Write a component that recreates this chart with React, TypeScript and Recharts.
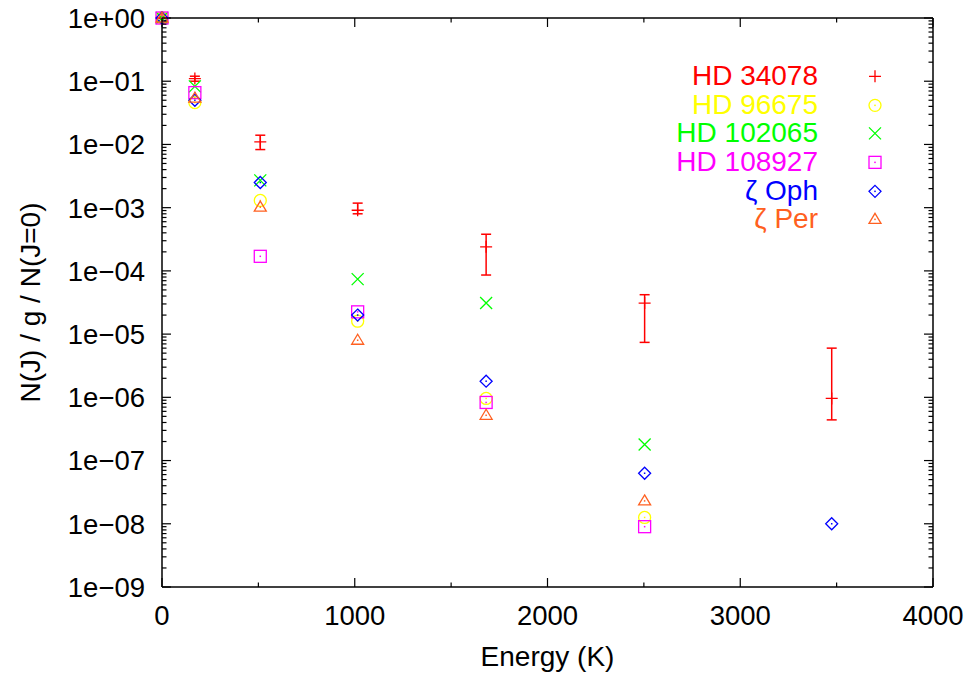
import React from "react";
import {
  ScatterChart,
  Scatter,
  XAxis,
  YAxis,
  ErrorBar,
  Legend,
  ReferenceLine,
  Label,
} from "recharts";

// Niveaux rotationnels de H2, J = 0..6 (énergie en K)
const energies = [0, 170.5, 509.9, 1015.1, 1681.6, 2503.9, 3474.5];

// N(J) / g / N(J=0) pour chaque ligne de visée
const hd34078 = [1, 0.11, 0.011, 9.1e-4, 2.4e-4, 3.1e-5, 9.6e-7];
const hd34078Low = [1, 0.1, 0.0083, 8.0e-4, 8.6e-5, 7.4e-6, 4.4e-7];
const hd34078High = [1, 0.12, 0.014, 1.18e-3, 3.8e-4, 4.2e-5, 6.0e-6];
const hd96675 = [1, 0.046, 0.0013, 1.6e-5, 9.6e-7, 1.26e-8, null];
const hd102065 = [1, 0.083, 0.0027, 7.4e-5, 3.1e-5, 1.8e-7, null];
const hd108927 = [1, 0.066, 1.7e-4, 2.25e-5, 8.3e-7, 9.0e-9, null];
const zetaOph = [1, 0.05, 0.0025, 2.0e-5, 1.8e-6, 6.3e-8, 1.0e-8];
const zetaPer = [1, 0.054, 0.00102, 8.0e-6, 5.2e-7, 2.3e-8, null];

const seriesNames = ["HD 34078", "HD 96675", "HD 102065", "HD 108927", "ζ Oph", "ζ Per"];
const seriesColors = ["#ff0000", "#ffff00", "#00ff00", "#ff00ff", "#0000ff", "#ff6020"];
const seriesMarkers = ["plus", "circle", "cross", "square", "diamond", "triangle"];

const xTicks = [0, 500, 1000, 1500, 2000, 2500, 3000, 3500, 4000];
const yMajor = [1, 1e-1, 1e-2, 1e-3, 1e-4, 1e-5, 1e-6, 1e-7, 1e-8, 1e-9];

const yMinor: number[] = [];
for (let e = -9; e < 0; e++) for (let k = 2; k <= 9; k++) yMinor.push(k * 10 ** e);
const majorSet = new Set(yMajor);

const FONT = "'Liberation Sans', Arial, sans-serif";
const PLOT_LEFT = 162;
const PLOT_RIGHT = 933;
const PLOT_TOP = 18;
const PLOT_BOTTOM = 587;

const fmtExp = (v: number) => {
  const e = Math.round(Math.log10(v));
  const a = Math.abs(e);
  return `1e${e >= 0 ? "+" : "−"}${a < 10 ? "0" + a : a}`;
};

function Marker({ kind, cx, cy, color }: { kind: string; cx: number; cy: number; color: string }) {
  const s = 6;
  const w = 1.3;
  const dot = <rect x={cx - 0.75} y={cy - 0.75} width={1.5} height={1.5} fill={color} />;
  switch (kind) {
    case "plus":
      return <path d={`M${cx - s},${cy}H${cx + s}M${cx},${cy - s}V${cy + s}`} stroke={color} strokeWidth={w} fill="none" />;
    case "cross":
      return <path d={`M${cx - s},${cy - s}L${cx + s},${cy + s}M${cx - s},${cy + s}L${cx + s},${cy - s}`} stroke={color} strokeWidth={w} fill="none" />;
    case "circle":
      return (
        <g>
          <circle cx={cx} cy={cy} r={s} stroke={color} strokeWidth={w} fill="none" />
          {dot}
        </g>
      );
    case "square":
      return (
        <g>
          <rect x={cx - s} y={cy - s} width={2 * s} height={2 * s} stroke={color} strokeWidth={w} fill="none" />
          {dot}
        </g>
      );
    case "diamond":
      return (
        <g>
          <path d={`M${cx},${cy - s}L${cx + s},${cy}L${cx},${cy + s}L${cx - s},${cy}Z`} stroke={color} strokeWidth={w} fill="none" />
          {dot}
        </g>
      );
    default:
      return (
        <g>
          <path d={`M${cx},${cy - 6}L${cx + 6},${cy + 4}L${cx - 6},${cy + 4}Z`} stroke={color} strokeWidth={w} fill="none" />
          {dot}
        </g>
      );
  }
}

const toPoints = (vals: (number | null)[]) =>
  energies
    .map((x, i) => ({ x, y: vals[i] }))
    .filter((p) => p.y != null);

const redPoints = energies.map((x, i) => ({
  x,
  y: hd34078[i],
  err: [hd34078[i] - hd34078Low[i], hd34078High[i] - hd34078[i]],
}));

const seriesData = [redPoints, toPoints(hd96675), toPoints(hd102065), toPoints(hd108927), toPoints(zetaOph), toPoints(zetaPer)];

function YTick(props: any) {
  const { y, payload } = props;
  const v = payload.value;
  const major = majorSet.has(v);
  const len = major ? 9 : 4.5;
  return (
    <g>
      <line x1={PLOT_LEFT} x2={PLOT_LEFT + len} y1={y} y2={y} stroke="#000" strokeWidth={1.2} />
      <line x1={PLOT_RIGHT} x2={PLOT_RIGHT - len} y1={y} y2={y} stroke="#000" strokeWidth={1.2} />
      {major && (
        <text x={PLOT_LEFT - 17} y={y} dy="0.36em" textAnchor="end" fontFamily={FONT} fontSize={27.5} fill="#000">
          {fmtExp(v)}
        </text>
      )}
    </g>
  );
}

function XTick(props: any) {
  const { x, payload } = props;
  const v = payload.value;
  const major = v % 1000 === 0;
  const len = major ? 9 : 4.5;
  return (
    <g>
      <line x1={x} x2={x} y1={PLOT_BOTTOM} y2={PLOT_BOTTOM - len} stroke="#000" strokeWidth={1.2} />
      <line x1={x} x2={x} y1={PLOT_TOP} y2={PLOT_TOP + len} stroke="#000" strokeWidth={1.2} />
      {major && (
        <text x={x} y={625} textAnchor="middle" fontFamily={FONT} fontSize={27.5} fill="#000">
          {v}
        </text>
      )}
    </g>
  );
}

const renderLegend = () => (
  <div style={{ fontFamily: FONT, fontSize: 28 }}>
    {seriesNames.map((n, i) => (
      <div key={n} style={{ display: "flex", alignItems: "center", height: 28.7 }}>
        <span style={{ width: 178, textAlign: "right", color: seriesColors[i], lineHeight: "28.7px", whiteSpace: "nowrap" }}>
          {n}
        </span>
        <svg width={80} height={28.7}>
          <Marker kind={seriesMarkers[i]} cx={57} cy={14.35} color={seriesColors[i]} />
        </svg>
      </div>
    ))}
  </div>
);

export default function App() {
  return (
    <div style={{ position: "absolute", left: 0, top: 0, width: 968, height: 675, background: "#fff" }}>
      <ScatterChart width={968} height={675} margin={{ top: 18, right: 35, bottom: 0, left: 0 }}>
        <XAxis
          type="number"
          dataKey="x"
          domain={[0, 4000]}
          ticks={xTicks}
          interval={0}
          height={88}
          tickLine={false}
          axisLine={{ stroke: "#000", strokeWidth: 1.5 }}
          tick={(p: any) => <XTick {...p} />}
        >
          <Label
            content={() => (
              <text x={(PLOT_LEFT + PLOT_RIGHT) / 2} y={666} textAnchor="middle" fontFamily={FONT} fontSize={28} fill="#000">
                Energy (K)
              </text>
            )}
          />
        </XAxis>
        <YAxis
          type="number"
          dataKey="y"
          scale="log"
          domain={[1e-9, 1]}
          ticks={[...yMajor, ...yMinor]}
          interval={0}
          width={162}
          tickLine={false}
          axisLine={{ stroke: "#000", strokeWidth: 1.5 }}
          tick={(p: any) => <YTick {...p} />}
        >
          <Label
            content={() => (
              <text
                x={30}
                y={(PLOT_TOP + PLOT_BOTTOM) / 2}
                dy="0.36em"
                transform={`rotate(-90 30 ${(PLOT_TOP + PLOT_BOTTOM) / 2})`}
                textAnchor="middle"
                fontFamily={FONT}
                fontSize={28}
                fill="#000"
              >
                N(J) / g / N(J=0)
              </text>
            )}
          />
        </YAxis>
        <ReferenceLine y={1} stroke="#000" strokeWidth={1.5} />
        <ReferenceLine x={4000} stroke="#000" strokeWidth={1.5} />
        <Legend
          layout="vertical"
          align="center"
          verticalAlign="middle"
          content={renderLegend}
          wrapperStyle={{ position: "absolute", left: 640, top: 62, width: 260, margin: 0 }}
        />
        {seriesData.map((data, i) => (
          <Scatter
            key={seriesNames[i]}
            name={seriesNames[i]}
            data={data}
            fill={seriesColors[i]}
            isAnimationActive={false}
            shape={(p: any) => <Marker kind={seriesMarkers[i]} cx={p.cx} cy={p.cy} color={seriesColors[i]} />}
          >
            {i === 0 && (
              <ErrorBar dataKey="err" direction="y" width={5} stroke="#ff0000" strokeWidth={1.5} isAnimationActive={false} />
            )}
          </Scatter>
        ))}
      </ScatterChart>
    </div>
  );
}
